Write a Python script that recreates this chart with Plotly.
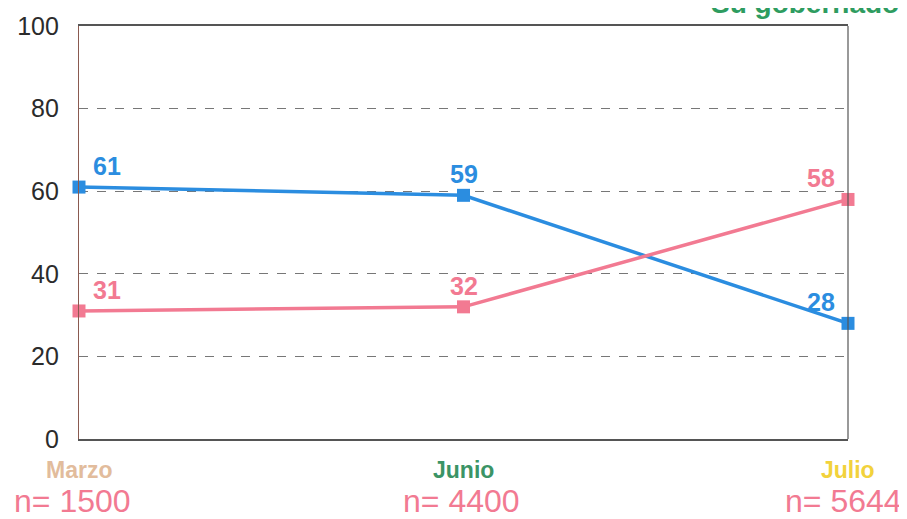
import plotly.graph_objects as go

months = ["Marzo", "Junio", "Julio"]
sample_sizes = ["n= 1500", "n= 4400", "n= 5644"]
blue_values = [61, 59, 28]
pink_values = [31, 32, 58]
y_ticks = [0, 20, 40, 60, 80, 100]
title_text = "Su gobernador"

x_pos = list(range(len(months)))
month_colors = ["#e2bc9c", "#3b9466", "#f2d23c"]
BLUE = "#2b8de0"
PINK = "#f27a92"
FONT = "Liberation Sans, Arial"

fig = go.Figure()
for vals, col in [(blue_values, BLUE), (pink_values, PINK)]:
    fig.add_trace(go.Scatter(
        x=x_pos, y=vals, mode="lines+markers",
        line=dict(color=col, width=3.5),
        marker=dict(symbol="square", size=13, color=col),
        cliponaxis=False, showlegend=False, hoverinfo="skip"))
    anchors = ["left", "center", "right"]
    xshifts = [12, 0, -11]
    for i, v in enumerate(vals):
        fig.add_annotation(x=x_pos[i], y=v, xref="x", yref="y", text=str(v),
                           showarrow=False, xanchor=anchors[i], yanchor="bottom",
                           xshift=xshifts[i], yshift=5,
                           font=dict(family=FONT, size=25, color=col, weight="bold"))

n_shifts = [-7, -2, -5]
for i, (m, n) in enumerate(zip(months, sample_sizes)):
    fig.add_annotation(x=x_pos[i], y=0, xref="x", yref="paper", yanchor="middle",
                       yshift=-31, text=m, showarrow=False,
                       font=dict(family=FONT, size=23, color=month_colors[i], weight="bold"))
    fig.add_annotation(x=x_pos[i], y=0, xref="x", yref="paper", yanchor="middle",
                       xshift=n_shifts[i], yshift=-62, text=n, showarrow=False,
                       font=dict(family=FONT, size=32, color=PINK))

fig.add_annotation(xref="paper", yref="paper", x=(701 - 71) / (899 - 71 - 59), y=1,
                   xanchor="left", yanchor="bottom", yshift=5, text=title_text,
                   showarrow=False,
                   font=dict(family=FONT, size=28, color="#2e9c60", weight="bold"))

fig.update_xaxes(range=[0, 2], showgrid=False, showticklabels=False, zeroline=False,
                 showline=True, linecolor="#555555", linewidth=1.5, mirror=True, ticks="",
                 automargin=False)
fig.update_yaxes(range=[0, 100], tickvals=y_ticks, showgrid=True, gridcolor="#777777",
                 griddash="dash", gridwidth=1, zeroline=False,
                 showline=True, linecolor="#8a5a50", linewidth=1.2, mirror=False,
                 tickfont=dict(family=FONT, size=25, color="#2b2b2b"),
                 ticks="", ticklabelstandoff=14, automargin=False)

# right border of the plot box
fig.add_shape(type="line", xref="paper", yref="paper", x0=1, x1=1, y0=0, y1=1,
              line=dict(color="#555555", width=1.2))

fig.update_layout(width=899, height=511, margin=dict(l=71, r=59, t=18, b=80),
                  paper_bgcolor="white", plot_bgcolor="white")

fig.write_html("out.html")
